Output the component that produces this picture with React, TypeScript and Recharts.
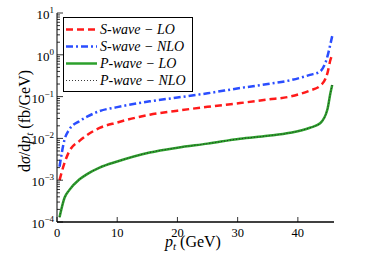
import React from 'react';
import { LineChart, Line, XAxis, YAxis, Legend, Label } from 'recharts';

// transverse momentum grid (GeV)
const PT = [0.42, 1.25, 2, 3.74, 5, 7.07, 10, 15.4, 20, 25, 30.4, 35, 38.7, 42, 43.7, 44.9, 45.4, 45.7];
// dσ/dpt (fb/GeV)
const S_LO = [1e-3, 2.6e-3, 4.8e-3, 8.7e-3, 0.012, 0.0178, 0.024, 0.037, 0.046, 0.057, 0.07, 0.085, 0.1, 0.14, 0.18, 0.36, 0.75, 1.0];
const S_NLO = [2.1e-3, 9.3e-3, 0.016, 0.026, 0.033, 0.045, 0.056, 0.077, 0.095, 0.12, 0.16, 0.2, 0.245, 0.33, 0.4, 0.9, 1.8, 2.8];
const P_LO = [1.3e-4, 3.8e-4, 5.7e-4, 1.05e-3, 1.4e-3, 2.0e-3, 2.8e-3, 4.6e-3, 6e-3, 7.5e-3, 9.8e-3, 0.0115, 0.0136, 0.018, 0.023, 0.049, 0.12, 0.19];
const P_NLO = [1.3e-4, 3.8e-4, 5.7e-4, 1.05e-3, 1.4e-3, 2.0e-3, 2.8e-3, 4.6e-3, 6e-3, 7.5e-3, 9.8e-3, 0.0115, 0.0136, 0.018, 0.023, 0.049, 0.12, 0.19];

const X_TICKS = [0, 10, 20, 30, 40];
const DECADES = [1e-4, 1e-3, 1e-2, 1e-1, 1, 10];
const MINOR_MULT = [2, 3, 4, 5, 6, 7, 8, 9];

const Y_TICKS = DECADES.flatMap((d, i) =>
  i < DECADES.length - 1 ? [d, ...MINOR_MULT.map((m) => d * m)] : [d]
);

const data = PT.map((pt, i) => ({
  pt,
  sLO: S_LO[i],
  sNLO: S_NLO[i],
  pLO: P_LO[i],
  pNLO: P_NLO[i],
}));

const FONT = 'Liberation Serif, DejaVu Serif, serif';

const SERIES = [
  { key: 'sLO', name: 'S-wave − LO', color: '#ff1a1a', width: 2.5, dash: '7 4' },
  { key: 'sNLO', name: 'S-wave − NLO', color: '#2a4dff', width: 2.5, dash: '7 3 2 3' },
  { key: 'pLO', name: 'P-wave − LO', color: '#2ca02c', width: 2.5, dash: undefined },
  { key: 'pNLO', name: 'P-wave − NLO', color: '#222', width: 0.9, dash: '1 2' },
];

const isMajor = (v: number) => {
  const l = Math.log10(v);
  return Math.abs(l - Math.round(l)) < 1e-6;
};

const LeftTick = (props: any) => {
  const { x, y, payload } = props;
  const v = payload.value;
  const major = isMajor(v);
  const exp = Math.round(Math.log10(v));
  return (
    <g>
      <line x1={x} x2={x + (major ? 6 : 3)} y1={y} y2={y} stroke="#000" strokeWidth={0.8} />
      {major && (
        <text x={x - 3} y={y + 6} textAnchor="end" fontSize={13} fontFamily={FONT} fill="#000">
          10
          <tspan dy={-6} fontSize={9}>{exp < 0 ? `−${-exp}` : `${exp}`}</tspan>
        </text>
      )}
    </g>
  );
};

const RightTick = (props: any) => {
  const { x, y, payload } = props;
  const major = isMajor(payload.value);
  return <line x1={x} x2={x - (major ? 6 : 3)} y1={y} y2={y} stroke="#000" strokeWidth={0.8} />;
};

const BottomTick = (props: any) => {
  const { x, y, payload } = props;
  return (
    <g>
      <line x1={x} x2={x} y1={y} y2={y - 5} stroke="#000" strokeWidth={0.8} />
      <text x={x} y={y + 15} textAnchor="middle" fontSize={12.5} fontFamily={FONT} fill="#000">
        {payload.value}
      </text>
    </g>
  );
};

const TopTick = (props: any) => {
  const { x, y } = props;
  return <line x1={x} x2={x} y1={y} y2={y + 5} stroke="#000" strokeWidth={0.8} />;
};

const LegendBox = () => (
  <div
    style={{
      width: 127,
      height: 70,
      border: '1px solid #000',
      background: '#fff',
      padding: '3px 0 0 1px',
      boxSizing: 'content-box',
      fontFamily: FONT,
    }}
  >
    {SERIES.map((s) => (
      <div key={s.key} style={{ display: 'flex', alignItems: 'center', height: 17, margin: 0 }}>
        <svg width={33} height={17}>
          <line
            x1={1}
            x2={32}
            y1={8.5}
            y2={8.5}
            stroke={s.color}
            strokeWidth={s.width}
            strokeDasharray={s.dash}
          />
        </svg>
        <span style={{ fontStyle: 'italic', fontSize: 14, marginLeft: 2, whiteSpace: 'nowrap' }}>{s.name}</span>
      </div>
    ))}
  </div>
);

export default function App() {
  return (
    <div style={{ position: 'absolute', left: 0, top: 0, background: '#fff' }}>
      <LineChart width={374} height={253} data={data} margin={{ top: 13, right: 40, bottom: 0, left: 0 }}>
        <XAxis
          dataKey="pt"
          type="number"
          domain={[0, 46]}
          allowDataOverflow
          ticks={X_TICKS}
          interval={0}
          height={31}
          tickSize={0}
          tickMargin={0}
          tickLine={false}
          tick={<BottomTick />}
          axisLine={{ stroke: '#000', strokeWidth: 1.3 }}
        >
          <Label
            content={() => (
              <text x={165} y={247} textAnchor="start" fontSize={16} fontFamily={FONT} fill="#000">
                <tspan fontStyle="italic">p</tspan>
                <tspan fontStyle="italic" fontSize={11} dy={3}>t</tspan>
                <tspan dy={-3}> (GeV)</tspan>
              </text>
            )}
          />
        </XAxis>
        <XAxis
          xAxisId="top"
          dataKey="pt"
          orientation="top"
          type="number"
          domain={[0, 46]}
          allowDataOverflow
          ticks={X_TICKS}
          interval={0}
          height={0}
          tickSize={0}
          tickMargin={0}
          tickLine={false}
          tick={<TopTick />}
          axisLine={{ stroke: '#000', strokeWidth: 1 }}
        />
        <YAxis
          type="number"
          scale="log"
          domain={[1e-4, 10]}
          allowDataOverflow
          ticks={Y_TICKS}
          interval={0}
          width={57}
          tickSize={0}
          tickMargin={0}
          tickLine={false}
          tick={<LeftTick />}
          axisLine={{ stroke: '#000', strokeWidth: 1 }}
        >
          <Label
            content={() => (
              <text
                x={30}
                y={121}
                transform="rotate(-90 30 121)"
                textAnchor="middle"
                fontSize={16}
                fontFamily={FONT}
                fill="#000"
              >
                <tspan>d</tspan>
                <tspan fontStyle="italic">σ</tspan>
                <tspan>/d</tspan>
                <tspan fontStyle="italic">p</tspan>
                <tspan fontStyle="italic" fontSize={11} dy={3}>t</tspan>
                <tspan dy={-3}> (fb/GeV)</tspan>
              </text>
            )}
          />
        </YAxis>
        <YAxis
          yAxisId="right"
          orientation="right"
          type="number"
          scale="log"
          domain={[1e-4, 10]}
          allowDataOverflow
          ticks={Y_TICKS}
          interval={0}
          width={0}
          tickSize={0}
          tickMargin={0}
          tickLine={false}
          tick={<RightTick />}
          axisLine={{ stroke: '#000', strokeWidth: 1 }}
        />
        <Line
          dataKey="sLO"
          type="monotone"
          stroke="#ff1a1a"
          strokeWidth={2.5}
          strokeDasharray="7 4"
          dot={false}
          isAnimationActive={false}
        />
        <Line
          dataKey="sNLO"
          type="monotone"
          stroke="#2a4dff"
          strokeWidth={2.5}
          strokeDasharray="7 3 2 3"
          dot={false}
          isAnimationActive={false}
        />
        <Line
          dataKey="pLO"
          type="monotone"
          stroke="#2ca02c"
          strokeWidth={2.5}
          dot={false}
          isAnimationActive={false}
        />
        <Line
          dataKey="pNLO"
          xAxisId="top"
          yAxisId="right"
          type="monotone"
          stroke="#222"
          strokeWidth={0.9}
          strokeDasharray="1 2"
          dot={false}
          isAnimationActive={false}
        />
        <Legend
          layout="vertical"
          align="center"
          verticalAlign="middle"
          content={() => <LegendBox />}
          wrapperStyle={{ position: 'absolute', left: 63, top: 17, width: 'auto', height: 'auto' }}
        />
      </LineChart>
    </div>
  );
}
